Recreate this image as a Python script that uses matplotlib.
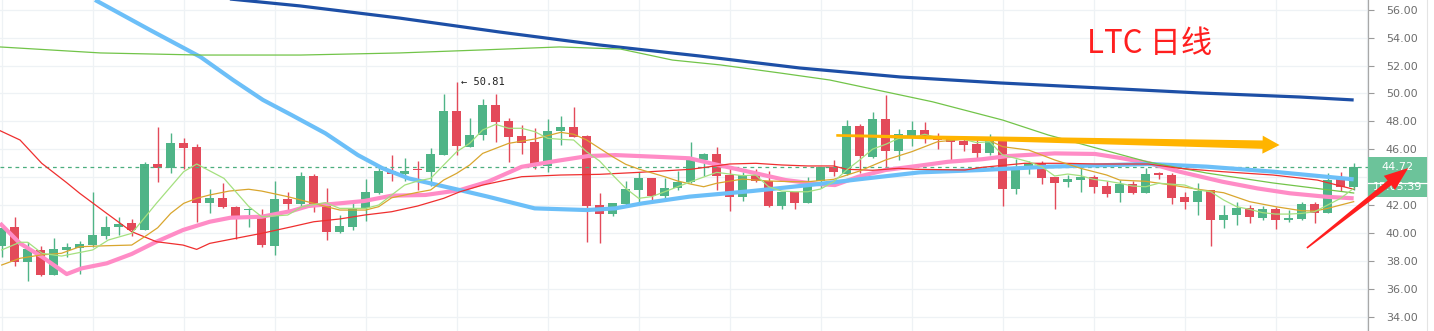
import matplotlib
matplotlib.use('Agg')
import matplotlib.pyplot as plt
import numpy as np
from matplotlib.patches import Polygon, Rectangle
from matplotlib.lines import Line2D
from matplotlib.transforms import blended_transform_factory, IdentityTransform

plt.rcParams['font.family'] = ['DejaVu Sans']

# ---------------- data ----------------
opens = [39.06, 40.41, 37.94, 38.78, 37.0, 38.8, 38.94, 39.13, 39.8, 40.4,
         40.69, 40.2, 44.94, 44.63, 46.44, 46.13, 42.17, 42.5, 41.88, 41.65,
         41.05, 39.08, 42.4, 42.07, 44.08, 42.0, 40.09, 40.44, 41.76, 42.88,
         44.44, 44.22, 44.6, 44.4, 45.58, 48.74, 46.18, 47.0, 49.17, 48.02,
         46.95, 46.5, 44.82, 47.3, 47.59, 46.95, 42.0, 41.38, 42.05, 43.08,
         43.96, 42.65, 43.2, 43.63, 45.22, 45.66, 44.15, 42.6, 44.15, 43.74,
         41.95, 42.91, 42.17, 43.74, 44.7, 44.2, 47.66, 45.42, 48.16, 45.89,
         46.9, 47.38, 46.82, 46.78, 46.59, 46.37, 45.75, 46.59, 43.17, 44.75,
         44.99, 44.03, 43.67, 43.79, 44.03, 43.36, 42.84, 43.48, 42.88, 44.27,
         44.15, 42.55, 42.24, 43.08, 40.93, 41.28, 41.76, 41.09, 41.71, 40.93,
         41.02, 42.07, 41.45, 43.99, 43.31]
highs = [40.45, 41.16, 39.33, 39.08, 39.66, 39.27, 39.45, 42.95, 41.23, 41.16,
         41.0, 45.08, 47.61, 47.16, 46.82, 46.37, 43.13, 43.58, 41.93, 41.8,
         41.7, 43.72, 42.95, 44.39, 44.22, 43.2, 41.28, 42.12, 43.84, 44.87,
         45.58, 45.35, 45.17, 46.06, 49.96, 50.81, 48.21, 49.58, 49.96, 48.21,
         47.73, 47.54, 48.14, 48.38, 49.05, 47.02, 42.84, 42.17, 43.72, 44.34,
         43.96, 43.91, 44.44, 46.54, 45.75, 46.14, 44.63, 44.39, 44.56, 44.44,
         42.91, 42.95, 43.99, 44.75, 45.23, 48.1, 47.78, 48.69, 49.89, 47.45,
         48.02, 47.93, 47.14, 46.78, 46.78, 46.66, 47.09, 46.9, 45.27, 45.15,
         45.15, 44.03, 44.15, 44.94, 44.15, 43.72, 43.79, 43.75, 44.63, 44.39,
         44.32, 42.95, 43.6, 43.08, 42.0, 42.24, 42.0, 41.93, 41.88, 41.64,
         42.24, 42.2, 44.27, 44.39, 45.0]
lows = [38.27, 37.6, 36.54, 36.93, 36.95, 38.3, 37.05, 39.0, 39.6, 39.86,
        39.8, 40.2, 43.67, 44.27, 44.6, 40.8, 41.4, 41.8, 39.54, 40.45,
        39.0, 38.42, 41.5, 41.88, 41.52, 39.49, 39.97, 40.2, 40.87, 42.77,
        43.72, 43.72, 43.07, 43.38, 45.58, 45.58, 46.18, 46.66, 46.54, 45.1,
        45.63, 44.58, 44.39, 46.3, 46.85, 39.37, 39.3, 41.23, 42.0, 42.12,
        42.28, 42.48, 43.08, 43.56, 44.1, 43.08, 41.57, 42.28, 43.63, 41.88,
        41.71, 41.71, 42.17, 43.2, 44.1, 44.15, 44.27, 45.35, 44.51, 45.23,
        46.23, 46.42, 45.99, 45.23, 45.9, 45.35, 45.58, 41.95, 42.77, 44.22,
        43.51, 41.71, 43.31, 42.95, 42.84, 42.55, 42.24, 42.79, 42.84, 43.84,
        42.07, 41.71, 41.28, 39.08, 40.37, 40.57, 40.73, 40.92, 40.26, 40.8,
        40.92, 40.69, 41.45, 43.03, 43.08]
closes = [40.35, 37.94, 38.85, 37.0, 38.85, 39.0, 39.2, 39.85, 40.42, 40.64,
          40.2, 44.94, 44.63, 46.44, 46.1, 42.17, 42.5, 41.86, 41.21, 41.75,
          39.13, 42.4, 42.07, 44.08, 42.07, 40.09, 40.5, 41.76, 42.93, 44.44,
          44.22, 44.42, 44.5, 45.63, 48.74, 46.25, 47.02, 49.17, 47.97, 46.9,
          46.47, 44.82, 47.3, 47.6, 46.9, 41.93, 41.38, 42.17, 43.15, 43.96,
          42.67, 43.2, 43.63, 45.22, 45.66, 44.1, 42.6, 44.15, 43.74, 41.95,
          42.91, 42.17, 43.74, 44.75, 44.39, 47.66, 45.53, 48.16, 45.89, 47.07,
          47.38, 46.78, 46.66, 46.54, 46.3, 45.75, 46.59, 43.13, 44.51, 44.99,
          43.96, 43.6, 43.86, 44.03, 43.31, 42.77, 43.48, 42.88, 44.22, 44.13,
          42.52, 42.24, 43.0, 40.93, 41.28, 41.76, 41.12, 41.69, 40.93, 41.09,
          42.07, 41.45, 43.79, 43.31, 44.72]

# moving-average lines: (candle index, price) pairs
ma5_idx = [0, 1.4, 2, 3.1, 4.6, 7, 8.2, 10, 11.9, 14, 15, 17.1, 19, 20, 22, 23.1,
           24.9, 26, 28, 29, 30, 31, 32, 33, 35, 36, 37, 38, 39, 40, 41, 42, 43,
           44, 45, 46, 47, 48, 49, 50, 51, 52, 53, 55, 56, 57, 58, 59, 60, 61,
           62, 63, 64, 65, 66, 67, 68, 69, 70, 71, 72, 73, 74, 75, 76, 77, 78,
           79, 80, 81, 82, 83, 84, 85, 86, 87, 88, 89, 91, 92, 93, 94, 95, 96,
           97, 98, 99, 100, 101, 102, 103, 104]
ma5_val = [38.78, 39.33, 39.33, 38.54, 38.34, 38.78, 39.49, 39.97, 42.12, 44.39,
           44.94, 43.91, 41.9, 41.16, 41.28, 41.88, 42.17, 41.76, 41.76, 42.0,
           42.72, 43.43, 43.72, 43.91, 45.82, 46.42, 47.38, 47.78, 47.5, 47.5,
           47.26, 46.78, 46.71, 46.66, 45.82, 45.15, 44.15, 43.2, 42.48, 42.6,
           42.95, 43.31, 43.67, 44.34, 44.22, 44.1, 44.15, 43.31, 43.0, 42.95,
           42.95, 43.15, 43.67, 44.51, 45.23, 46.01, 46.35, 46.78, 46.82, 47.07,
           46.82, 46.78, 46.71, 46.47, 46.54, 45.58, 45.35, 45.1, 44.75, 44.08,
           44.22, 44.1, 43.84, 43.72, 43.56, 43.36, 43.31, 43.56, 43.43, 43.08,
           42.95, 42.36, 41.88, 41.69, 41.45, 41.35, 41.35, 41.4, 41.52, 42.0,
           42.48, 43.2]

ma10_idx = [0, 1.4, 3, 4.6, 6, 8, 10, 11, 12, 13, 14, 15, 16, 17.5, 19, 20, 22,
            24, 26, 28, 29, 30, 32, 33, 34, 35, 36, 37, 39, 41, 43, 44, 45, 46,
            47, 48, 49, 51, 52, 53, 54, 55, 57, 59, 61, 62, 64, 66, 68, 70, 72,
            74, 76, 77, 79, 81, 83, 85, 86, 87, 88, 90, 92, 94, 96, 98, 100, 101,
            102, 104]
ma10_val = [37.7, 38.18, 38.42, 38.54, 39.01, 39.08, 39.13, 39.73, 40.37, 41.4,
            42.12, 42.48, 42.72, 43.0, 43.13, 43.0, 42.6, 42.12, 41.64, 41.64,
            41.88, 42.52, 42.91, 43.08, 43.79, 44.27, 44.87, 45.7, 46.42, 46.73,
            47.21, 47.07, 46.66, 46.06, 45.46, 44.92, 44.58, 44.03, 43.72, 43.5,
            43.31, 43.56, 43.86, 43.72, 43.67, 43.67, 43.84, 44.44, 45.23, 45.82,
            46.54, 46.71, 46.61, 46.18, 45.94, 45.23, 44.63, 44.15, 43.79, 43.74,
            43.7, 43.43, 43.13, 42.88, 42.24, 41.88, 41.59, 41.57, 41.76, 42.24]

ma20_idx = [-0.13, 1.41, 3.08, 5.0, 6.0, 8.08, 10.0, 11.9, 13.95, 15.0, 16.0,
            17.6, 20.0, 22.3, 24.0, 26.0, 27.9, 30.0, 32.0, 34.0, 35.25, 37.0,
            40.0, 43.0, 46.0, 49.0, 53.0, 56.0, 58.0, 60.0, 62.0, 64.0, 65.0,
            67.0, 69.0, 70.3, 74.1, 75.4, 78.7, 81.8, 84.1, 88.2, 90.6, 93.9,
            97.8, 101.2, 104.0]
ma20_val = [47.33, 46.66, 44.99, 43.6, 42.84, 41.4, 40.09, 39.37, 39.13, 38.82,
            39.25, 39.54, 39.97, 40.44, 40.8, 41.0, 41.28, 41.52, 41.93, 42.48,
            42.95, 43.43, 44.03, 44.15, 44.2, 44.34, 44.56, 44.94, 44.99, 44.87,
            44.8, 44.8, 44.56, 44.49, 44.63, 44.56, 44.51, 44.7, 44.99, 44.99,
            44.94, 44.94, 44.63, 44.39, 44.15, 43.79, 43.13]

ma30_idx = [-0.13, 1.41, 3.08, 5.0, 6.15, 8.08, 10.0, 11.9, 13.95, 16.0, 17.6,
            20.0, 22.3, 23.6, 26.0, 27.9, 30.0, 32.6, 35.25, 37.4, 40.0, 42.6,
            45.1, 47.2, 50.3, 52.9, 55.1, 57.7, 60.3, 62.8, 64.1, 65.9, 68.0,
            70.6, 72.8, 75.4, 77.4, 81.0, 84.1, 86.2, 88.3, 90.6, 93.9, 96.6,
            99.1, 101.9, 104.0]
ma30_val = [40.69, 39.25, 38.3, 37.05, 37.46, 37.82, 38.49, 39.37, 40.21, 40.8,
            41.09, 41.16, 41.57, 41.93, 42.12, 42.29, 42.67, 42.72, 43.07, 43.67,
            44.74, 45.15, 45.51, 45.58, 45.46, 45.35, 44.87, 44.34, 43.79, 43.5,
            43.43, 44.03, 44.51, 44.82, 45.1, 45.28, 45.51, 45.7, 45.66, 45.35,
            44.99, 44.39, 43.67, 43.19, 42.84, 42.59, 42.48]

ma60_idx = [-0.13, 7.6, 15.3, 23.0, 30.6, 36.8, 42.9, 47.6, 51.6, 55.3, 59.9,
            63.7, 71.6, 77.0, 80.5, 83.9, 88.2, 92.7, 97.8, 104.0]
ma60_val = [53.33, 52.9, 52.75, 52.75, 52.9, 53.11, 53.33, 53.18, 52.39, 52.04,
            51.46, 50.96, 49.4, 48.09, 47.02, 46.16, 45.08, 44.29, 43.58, 42.86]

ma120_idx = [7.18, 11.4, 15.3, 17.8, 20.1, 22.3, 24.9, 27.4, 29.3, 31.3, 35.25,
             37.4, 41.0, 45.0, 47.2, 49.3, 52.9, 57.7, 62.8, 65.9, 70.6, 75.4,
             80.5, 88.3, 92.7, 97.8, 104.0]
ma120_val = [56.7, 54.55, 52.61, 50.96, 49.53, 48.45, 47.14, 45.58, 44.63, 43.91,
             43.07, 42.6, 41.76, 41.64, 41.76, 42.12, 42.6, 43.0, 43.5, 43.84,
             44.34, 44.51, 44.75, 44.94, 44.75, 44.39, 43.84]

ma250_idx = [16.0, 22.95, 30.6, 38.3, 46.0, 53.7, 61.4, 69.1, 76.8, 84.5, 92.2,
             99.9, 104.0]
ma250_val = [56.91, 56.27, 55.4, 54.4, 53.47, 52.68, 51.82, 51.18, 50.75, 50.39,
             50.03, 49.74, 49.53]

y_ticks = [34, 36, 38, 40, 42, 44, 46, 48, 50, 52, 54, 56]
title_text = "LTC 日线"
timer_text = "15:05:39"
high_label_idx = 35

# ---------------- styling ----------------
GREEN = '#4fb487'
RED = '#e34a5a'
W, H = 1434, 331
fig = plt.figure(figsize=(W / 100, H / 100), dpi=100)
fig.patch.set_facecolor('white')
ax_right_px = 1367.7
ax = fig.add_axes([0, 0, ax_right_px / W, 1])
ax.set_xlim(-0.13, 105.08)
ax.set_ylim(32.97, 56.695)

# grid
ax.set_yticks(y_ticks)
ax.set_yticklabels([f"{v:.2f}" for v in y_ticks])
ax.set_xticks(np.arange(0, 106, 7))
ax.tick_params(axis='x', length=0, labelbottom=False)
ax.grid(True, color='#eef2f5', linewidth=0.9, zorder=0)
ax.set_axisbelow(True)
ax.yaxis.tick_right()
ax.tick_params(axis='y', direction='out', length=4, width=0.8, color='#9a9a9a',
               labelcolor='#6e6e6e', labelsize=8, pad=9)
for s in ['top', 'left', 'bottom']:
    ax.spines[s].set_visible(False)
ax.spines['right'].set_color('#a8a8a8')
ax.spines['right'].set_linewidth(0.9)

# candles
idx = np.arange(len(closes))
o = np.array(opens); c = np.array(closes)
cols = np.where(c >= o, GREEN, RED)
ax.vlines(idx, lows, highs, colors=cols, linewidth=1.0, zorder=2)
bot = np.minimum(o, c)
hgt = np.maximum(np.abs(c - o), 0.1)
ax.bar(idx, hgt, bottom=bot, width=0.69, color=cols, linewidth=0, zorder=3)

# last price dashed line
ax.axhline(closes[-1], color='#4cae7f', linewidth=0.9, linestyle=(0, (3, 3)), zorder=4)

# moving averages
ax.plot(ma30_idx, ma30_val, color='#ff8cc6', linewidth=3.0, zorder=5, solid_capstyle='butt')
ax.plot(ma120_idx, ma120_val, color='#6cbff8', linewidth=3.0, zorder=5, solid_capstyle='butt')
ax.plot(ma250_idx, ma250_val, color='#1d4fa6', linewidth=2.3, zorder=5, solid_capstyle='butt')
ax.plot(ma60_idx, ma60_val, color='#72c449', linewidth=0.9, zorder=6)
ax.plot(ma20_idx, ma20_val, color='#ef2f2f', linewidth=0.9, zorder=6)
ax.plot(ma10_idx, ma10_val, color='#d9a62e', linewidth=0.9, zorder=6)
ax.plot(ma5_idx, ma5_val, color='#a4e07f', linewidth=0.9, zorder=6)

# high label
ax.annotate("\u2190 " + f"{highs[high_label_idx]:.2f}", xy=(high_label_idx, highs[high_label_idx]),
            xytext=(3, 0), textcoords='offset points', ha='left', va='center',
            fontsize=7.5, family=['DejaVu Sans Mono'], color='#222222', zorder=8)

# hand-drawn arrows (data endpoints -> pixel polygons)
def tapered_arrow(p_start, p_end, w0, w1, head_len, head_w, color, z):
    a = ax.transData.transform(p_start)
    b = ax.transData.transform(p_end)
    d = b - a
    L = np.hypot(*d)
    u = d / L
    n = np.array([-u[1], u[0]])
    base = b - u * head_len
    pts = [a + n * w0, base + n * w1, base + n * head_w, b,
           base - n * head_w, base - n * w1, a - n * w0]
    fig.add_artist(Polygon(pts, closed=True, transform=IdentityTransform(),
                           facecolor=color, edgecolor='none', zorder=z))

# price label box on the axis
bt = blended_transform_factory(fig.transFigure, ax.transData)
x0f, x1f = ax_right_px / W, 1426.7 / W
last = closes[-1]
fig.add_artist(Rectangle((x0f, last - 2.16), x1f - x0f, 2.87, transform=bt,
                         facecolor='#6cc39a', edgecolor='none', zorder=5))
fig.add_artist(Line2D([x0f, x1f], [last - 1.11, last - 1.11], transform=bt,
                      color='white', linewidth=0.9, zorder=6))
fig.text((x0f + x1f) / 2, last, f"{last:.2f}", transform=bt, ha='center', va='center',
         color='white', fontsize=8, zorder=7)
fig.text((x0f + x1f) / 2, last - 1.45, timer_text, transform=bt, ha='center', va='center',
         color='white', fontsize=8, zorder=7)

# right border line
fig.add_artist(Line2D([1427 / W, 1427 / W], [0, 1], transform=fig.transFigure,
                      color='#e4e4e4', linewidth=0.8))

tapered_arrow((64.2, 46.99), (98.3, 46.3), 1.3, 4.2, 17, 9, '#ffb400', 9)
tapered_arrow((100.4, 38.92), (108.2, 44.65), 0.8, 3.0, 24, 9, '#ff1e1e', 12)

# title
fig.text(1087 / W, 1 - 53.3 / H, title_text, ha='left', va='baseline', fontsize=22.5,
         color='#ff1f1f', family=['Noto Sans CJK SC', 'DejaVu Sans'], zorder=9)

fig.savefig('out.png', dpi=100)
